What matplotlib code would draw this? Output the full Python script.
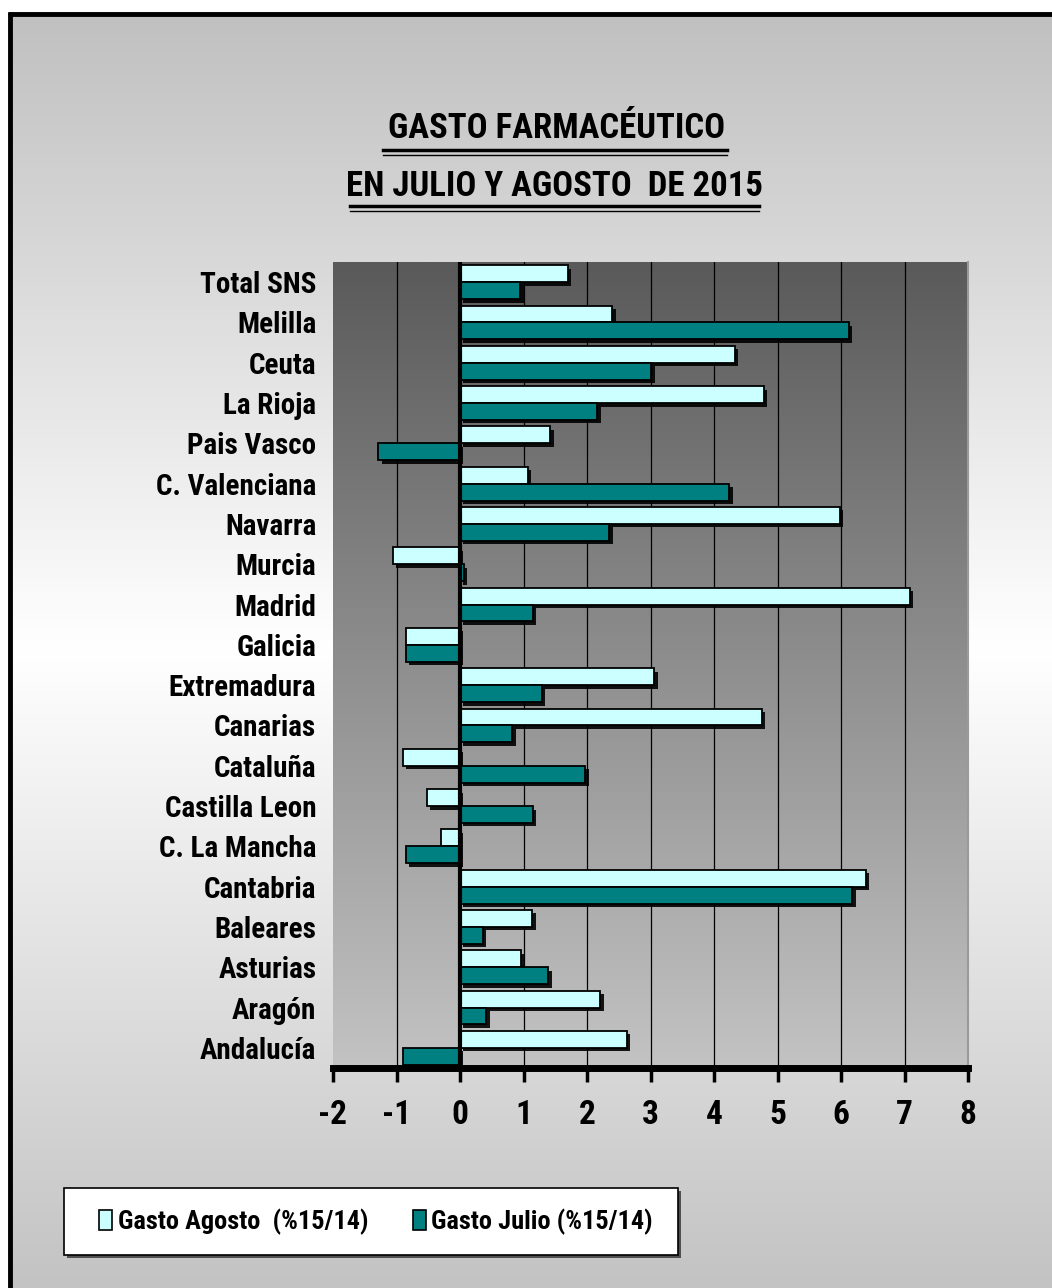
import numpy as np
import matplotlib
matplotlib.use("Agg")
import matplotlib.pyplot as plt
import matplotlib.patheffects as pe
from matplotlib.patches import Rectangle

plt.rcParams['font.family'] = ['Roboto Condensed', 'DejaVu Sans']
plt.rcParams['font.weight'] = 'bold'

# regiones, de arriba a abajo
regiones = ["Total SNS", "Melilla", "Ceuta", "La Rioja", "Pais Vasco",
            "C. Valenciana", "Navarra", "Murcia", "Madrid", "Galicia",
            "Extremadura", "Canarias", "Cataluña", "Castilla Leon",
            "C. La Mancha", "Cantabria", "Baleares", "Asturias", "Aragón",
            "Andalucía"]
agosto = [1.70, 2.40, 4.33, 4.78, 1.42, 1.07, 5.98, -1.06, 7.08, -0.85,
          3.06, 4.75, -0.90, -0.52, -0.30, 6.39, 1.14, 0.96, 2.21, 2.63]
julio = [0.95, 6.12, 3.01, 2.16, -1.29, 4.24, 2.35, 0.06, 1.15, -0.85,
         1.29, 0.82, 1.97, 1.15, -0.85, 6.18, 0.36, 1.39, 0.41, -0.90]
xticks = [-2, -1, 0, 1, 2, 3, 4, 5, 6, 7, 8]

W, H = 1052, 1288
fig = plt.figure(figsize=(W / 100, H / 100), dpi=100)
fig.patch.set_facecolor('white')

# fondo degradado de la figura
bg = fig.add_axes([0, 0, 1, 1], zorder=-10)
bg.set_xlim(0, W)
bg.set_ylim(H, 0)
bg.axis('off')
yy = np.linspace(12, H, 400)
tone = np.where(yy < 650, 192 + 63 * (yy - 12) / 638, 255 - 60 * (yy - 650) / 638) / 255
grad = np.repeat(tone[:, None], 2, axis=1)
bg.imshow(np.dstack([grad, grad, grad]), extent=[10, W, H, 12], aspect='auto',
          interpolation='bilinear')
bg.plot([10, 10], [12, H], color='black', lw=3.5, solid_capstyle='butt')
bg.plot([8, W], [13.5, 13.5], color='black', lw=3.5, solid_capstyle='butt')

# titulo
bg.text(557, 128, "GASTO FARMACÉUTICO", ha='center', va='center', fontsize=25)
bg.plot([383, 727], [150, 150], color='black', lw=2.5)
bg.plot([383, 727], [155, 155], color='black', lw=1)
bg.text(554, 186, "EN JULIO Y AGOSTO  DE 2015", ha='center', va='center', fontsize=25)
bg.plot([350, 759], [206, 206], color='black', lw=2.5)
bg.plot([350, 759], [211, 211], color='black', lw=1)

# leyenda
bg.add_patch(Rectangle((64, 1188), 614, 67, facecolor='white', edgecolor='black', lw=1.2,
                       path_effects=[pe.SimplePatchShadow(offset=(2, -2), shadow_rgbFace='#505050', alpha=1),
                                     pe.Normal()]))

ax = fig.add_axes([333 / W, 1 - 1068 / H, (968 - 333) / W, (1068 - 262) / H])
n = len(regiones)
y = np.arange(n)
ax.set_xlim(-2, 8)
ax.set_ylim(n - 0.5, -0.5)

pg = np.linspace(90, 195, 300) / 255
pg = np.repeat(pg[:, None], 2, axis=1)
ax.imshow(np.dstack([pg, pg, pg]), extent=[-2, 8, n - 0.5, -0.5], aspect='auto',
          interpolation='bilinear', zorder=0)

for t in xticks:
    if t not in (-2, 0, 8):
        ax.axvline(t, color='black', lw=0.9, zorder=1)

shadow = [pe.SimplePatchShadow(offset=(2.5, -2.5), shadow_rgbFace='black', alpha=0.9), pe.Normal()]
h = 0.42
b1 = ax.barh(y - h / 2, agosto, height=h, color='#ccffff', edgecolor='black', lw=1.3, zorder=3)
b2 = ax.barh(y + h / 2, julio, height=h, color='#008080', edgecolor='black', lw=1.3, zorder=3)
for b in list(b1) + list(b2):
    b.set_path_effects(shadow)

ax.axvline(0, color='black', lw=3, zorder=4)

ax.set_yticks(y)
ax.set_yticklabels(regiones, fontsize=21)
ax.tick_params(axis='y', length=0, pad=12)
ax.set_xticks(xticks)
ax.set_xticklabels([str(t) for t in xticks], fontsize=24)
ax.tick_params(axis='x', direction='out', length=10, width=2.5, pad=12, color='black')

for s in ['top', 'left']:
    ax.spines[s].set_visible(False)
ax.spines['right'].set_color('#9a9a9a')
ax.spines['right'].set_linewidth(1.5)
ax.spines['bottom'].set_linewidth(5)
ax.spines['bottom'].set_color('black')

handles = [Rectangle((0, 0), 1, 1, facecolor='#ccffff', edgecolor='black', lw=1.2),
           Rectangle((0, 0), 1, 1, facecolor='#008080', edgecolor='black', lw=1.2)]
fig.legend(handles, ["Gasto Agosto  (%15/14)", "Gasto Julio (%15/14)"],
           loc='center', bbox_to_anchor=(376 / W, 1 - 1222 / H), ncol=2, frameon=False,
           fontsize=19, handlelength=0.5, handleheight=0.8, handletextpad=0.2,
           columnspacing=1.7)

fig.savefig("out.png", dpi=100)
